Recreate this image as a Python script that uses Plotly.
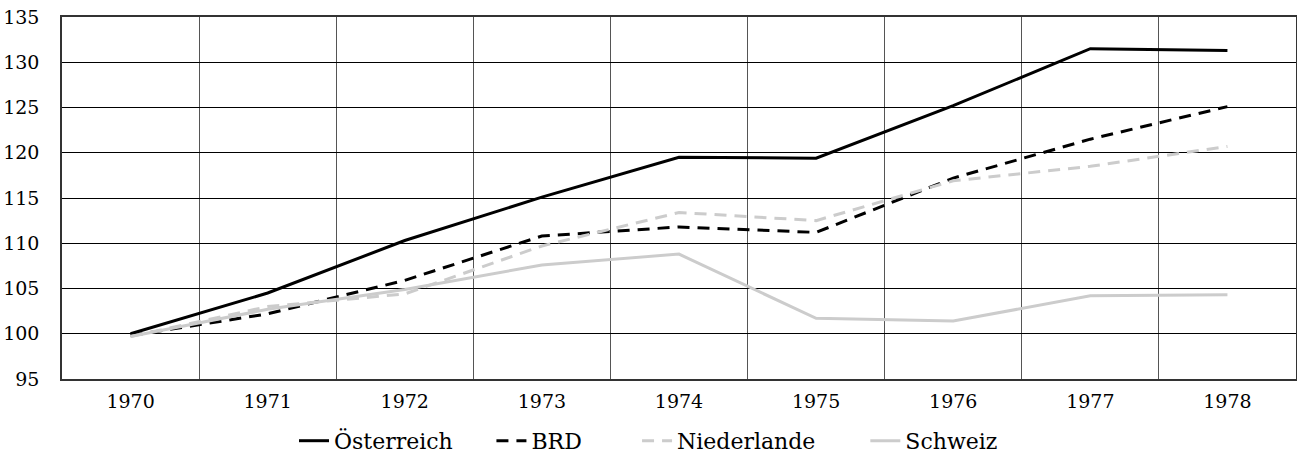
import plotly.graph_objects as go

years = [1970, 1971, 1972, 1973, 1974, 1975, 1976, 1977, 1978]
oesterreich = [100.0, 104.5, 110.3, 115.1, 119.5, 119.4, 125.2, 131.5, 131.3]
brd = [99.8, 102.2, 105.9, 110.8, 111.8, 111.2, 117.2, 121.5, 125.1]
niederlande = [99.7, 103.0, 104.4, 109.7, 113.4, 112.5, 116.9, 118.5, 120.7]
schweiz = [99.7, 102.7, 104.9, 107.6, 108.8, 101.7, 101.4, 104.2, 104.3]

series_names = ["Österreich", "BRD", "Niederlande", "Schweiz"]
legend_x = [0.188, 0.348, 0.466, 0.651]

FONT = "DejaVu Serif"
styles = [
    dict(color="#000000", width=3),
    dict(color="#000000", width=3, dash="12px,8px"),
    dict(color="#cccccc", width=3, dash="12px,8px"),
    dict(color="#cccccc", width=3),
]
fig = go.Figure()
for i, (name, vals) in enumerate(zip(series_names, [oesterreich, brd, niederlande, schweiz])):
    fig.add_trace(go.Scatter(x=years, y=vals, name=name, mode="lines",
                             line=styles[i],
                             legend="legend" if i == 0 else f"legend{i+1}"))

leg_common = dict(orientation="h", y=-0.171, yanchor="middle", xanchor="left",
                  font=dict(family=FONT, size=22, color="#000000"), itemwidth=30,
                  bgcolor="rgba(0,0,0,0)")
fig.update_layout(
    width=1297, height=457,
    margin=dict(l=62, r=1, t=17, b=78, autoexpand=False),
    paper_bgcolor="white", plot_bgcolor="white",
    font=dict(family=FONT, size=19, color="#000000"),
    showlegend=True,
    legend=dict(x=legend_x[0], **leg_common),
    legend2=dict(x=legend_x[1], **leg_common),
    legend3=dict(x=legend_x[2], **leg_common),
    legend4=dict(x=legend_x[3], **leg_common),
    xaxis=dict(range=[1969.5, 1978.5], tickmode="linear", tick0=1970, dtick=1,
               showgrid=False, zeroline=False, showline=True, linecolor="#333333",
               linewidth=1.5, mirror=True, ticks="", ticklabelstandoff=4,
               automargin=False,
               tickfont=dict(family=FONT, size=19, color="#000000"),
               minor=dict(tick0=1969.5, dtick=1, showgrid=True, gridcolor="#555555",
                          gridwidth=1, ticks="")),
    yaxis=dict(range=[95, 135], tickmode="linear", tick0=95, dtick=5,
               showgrid=True, gridcolor="#000000", gridwidth=1, zeroline=False,
               showline=True, linecolor="#333333", linewidth=1.5, mirror=True,
               ticks="", ticklabelstandoff=17, automargin=False,
               tickfont=dict(family=FONT, size=19, color="#000000")),
)
fig.write_html("out.html", config={"displayModeBar": False},
               post_script="document.body.style.margin='0';")
